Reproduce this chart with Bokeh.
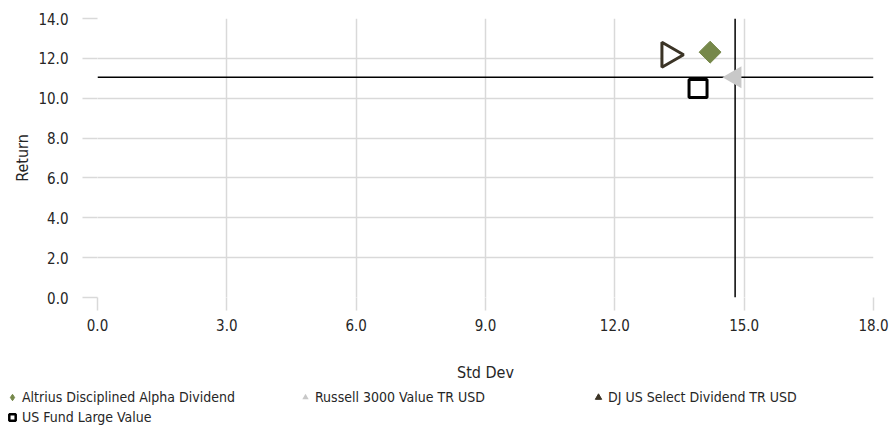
import numpy as np
from bokeh.plotting import figure
from bokeh.models import Span, Legend, LegendItem, FixedTicker, NumeralTickFormatter
from bokeh.embed import file_html
from bokeh.resources import INLINE

# ---- data ----
names = ["Altrius Disciplined Alpha Dividend", "Russell 3000 Value TR USD",
         "DJ US Select Dividend TR USD", "US Fund Large Value"]
std_dev = [14.21, 14.79, 13.26, 13.93]
returns = [12.31, 11.05, 12.18, 10.49]
benchmark = 1  # crosshair drawn at the benchmark (Russell 3000 Value)
x_ticks = [0, 3, 6, 9, 12, 15, 18]
y_ticks = [0, 2, 4, 6, 8, 10, 12, 14]

FONT = "DejaVu Sans Condensed"
GRID = "#d9d9d9"
TXT = "#262626"

p = figure(width=889, height=388, x_range=(0, 18), y_range=(0, 14),
           output_backend="svg", toolbar_location=None,
           min_border_left=97, min_border_right=16, min_border_top=18,
           min_border_bottom=91)
p.outline_line_color = None

p.xaxis.ticker = FixedTicker(ticks=x_ticks)
p.yaxis.ticker = FixedTicker(ticks=y_ticks)
p.xaxis.formatter = NumeralTickFormatter(format="0.0")
p.yaxis.formatter = NumeralTickFormatter(format="0.0")
for ax in (p.xaxis, p.yaxis):
    ax.axis_line_color = None
    ax.minor_tick_line_color = None
    ax.major_tick_line_color = GRID
    ax.major_tick_line_width = 1.5
    ax.major_tick_in = 0
    ax.major_label_text_font = FONT
    ax.major_label_text_font_size = "15px"
    ax.major_label_text_color = TXT
    ax.axis_label_text_font = FONT
    ax.axis_label_text_font_size = "16px"
    ax.axis_label_text_font_style = "normal"
    ax.axis_label_text_color = TXT
p.yaxis.major_tick_out = 15
p.xaxis.major_tick_out = 13
p.yaxis.major_label_standoff = 14
p.xaxis.major_label_standoff = 8
p.xaxis.axis_label = "Std Dev"
p.yaxis.axis_label = "Return"
p.xaxis.axis_label_standoff = 29
p.yaxis.axis_label_standoff = 3

p.xgrid.ticker = FixedTicker(ticks=x_ticks)
p.ygrid.ticker = FixedTicker(ticks=y_ticks)
p.xgrid.grid_line_color = GRID
p.ygrid.grid_line_color = GRID
p.xgrid.grid_line_width = 1.5
p.ygrid.grid_line_width = 1.5

# crosshair at benchmark (beneath the markers)
p.add_layout(Span(location=returns[benchmark], dimension="width",
                  line_color="black", line_width=1.5, level="underlay"))
p.add_layout(Span(location=std_dev[benchmark], dimension="height",
                  line_color="black", line_width=1.5, level="underlay"))

# points
p.scatter(x=[std_dev[0]], y=[returns[0]], marker="square", angle=np.pi / 4,
          size=15.5, fill_color="#76884A", line_color="#76884A")
p.scatter(x=[std_dev[1]], y=[returns[1]], marker="triangle", angle=np.pi / 2,
          size=22, fill_color="#c8c8c8", line_color=None)
p.scatter(x=[std_dev[2]], y=[returns[2]], marker="triangle", angle=-np.pi / 2,
          size=25, fill_color="white", line_color="#3b3426", line_width=3)
p.scatter(x=[std_dev[3]], y=[returns[3]], marker="square",
          size=18, fill_color="white", line_color="black", line_width=3)

# ---- legend strip (separate root, so its frame spans the full width) ----
lf = figure(width=889, height=37, x_range=(0, 1), y_range=(0, 1),
            output_backend="svg", toolbar_location=None,
            x_axis_location=None, y_axis_location=None, min_border=0)
lf.outline_line_color = None
lf.grid.visible = False

# legend swatches: same data, lying outside this strip's ranges
l0 = lf.scatter(x=[std_dev[0]], y=[returns[0]], marker="diamond",
                size=6, fill_color="#76884A", line_color="#76884A")
l1 = lf.scatter(x=[std_dev[1]], y=[returns[1]], marker="triangle",
                size=6, fill_color="#c8c8c8", line_color=None)
l2 = lf.scatter(x=[std_dev[2]], y=[returns[2]], marker="triangle",
                size=6, fill_color="#3b3426", line_color="#3b3426")
l3 = lf.scatter(x=[std_dev[3]], y=[returns[3]], marker="square",
                size=6, fill_color="white", line_color="black", line_width=2.5)

legend_pos = [(4, 20), (297, 20), (590, 20), (4, 0)]
for r, name, loc in zip([l0, l1, l2, l3], names, legend_pos):
    lg = Legend(items=[LegendItem(label=name, renderers=[r])], location=loc,
                orientation="horizontal", padding=0, margin=0, spacing=0,
                glyph_width=16, glyph_height=16, label_standoff=2,
                label_height=16, border_line_color=None,
                background_fill_alpha=0, label_text_font=FONT,
                label_text_font_size="14px", label_text_color=TXT)
    lf.add_layout(lg, "center")

open("out.html", "w").write(file_html([p, lf], INLINE))
